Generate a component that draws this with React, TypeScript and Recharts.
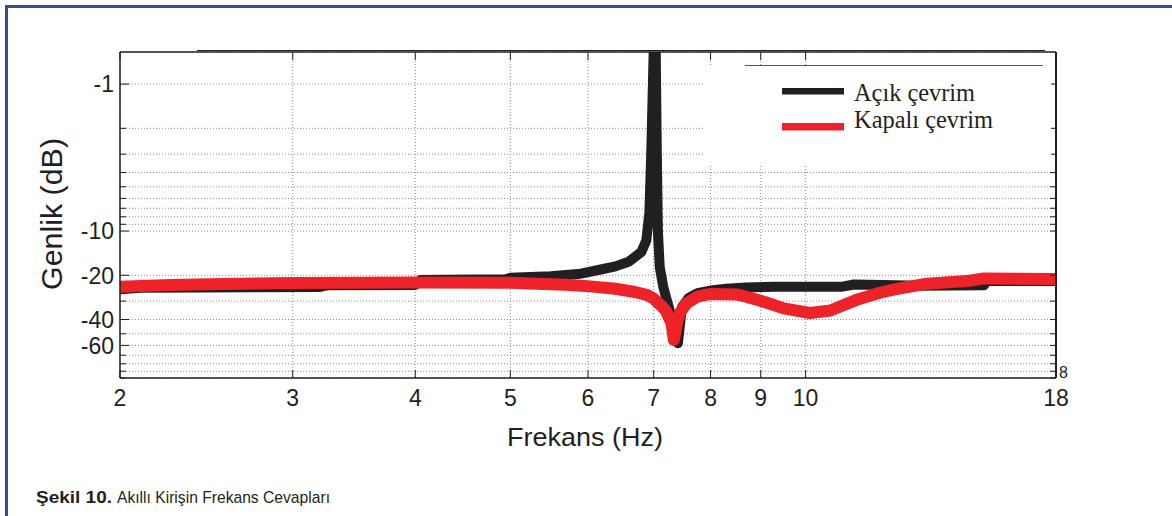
import React from 'react';
import { LineChart, Line, XAxis, YAxis, CartesianGrid } from 'recharts';

// Açık çevrim (open loop) — frequency (Hz) and amplitude (dB)
const acikFreq = [2.0, 2.1, 3.2, 3.25, 4.0, 4.05, 4.95, 5.0, 5.5, 5.9, 6.2, 6.4, 6.6, 6.8, 6.88, 6.93, 6.96, 6.99, 7.01, 7.03, 7.05, 7.07, 7.1, 7.16, 7.22, 7.3, 7.41, 7.48, 7.6, 7.76, 8.0, 8.3, 8.7, 9.3, 10.9, 11.2, 12.0, 13.0, 15.2, 15.3, 18.0];
const acikDb = [-24.9, -24.3, -24.0, -23.4, -23.3, -21.5, -21.3, -20.8, -20.3, -19.5, -18.2, -17.4, -16.2, -13.9, -11.6, -7.5, -3, -0.9, -0.4, -0.4, -2.5, -10, -17.6, -24, -29.6, -38.6, -58, -33, -28.5, -26.5, -25.4, -24.7, -24.2, -23.9, -23.9, -23.1, -23.3, -23.6, -23.4, -21.9, -21.9];

// Kapalı çevrim (closed loop)
const kapaliFreq = [2.0, 2.25, 2.55, 3.0, 4.0, 5.0, 5.4, 5.7, 6.03, 6.4, 6.7, 6.9, 7.0, 7.1, 7.2, 7.3, 7.34, 7.4, 7.45, 7.56, 7.76, 8.0, 8.5, 8.7, 9.1, 9.5, 10.1, 10.6, 11.3, 11.9, 12.5, 13.3, 14.6, 15.2, 18.0];
const kapaliDb = [-23.9, -23.3, -22.9, -22.6, -22.4, -22.5, -22.9, -23.2, -23.8, -24.7, -26.0, -27.3, -28.8, -31.5, -34.7, -42.5, -55, -41, -35.8, -31.1, -27.9, -26.8, -27.0, -28.0, -30.5, -33.6, -36.1, -34.7, -29.2, -26.3, -24.5, -22.8, -21.9, -21.0, -21.2];

// Axis ticks
const xTicks = [2, 3, 4, 5, 6, 7, 8, 9, 10, 18];
const yMinorTicks = [1, 2, 3, 4, 5, 6, 7, 8, 9, 10, 20, 30, 40, 50, 60, 70, 80, 90, 100];
const yLabelTicks = [1, 10, 20, 40, 60];

const acikData = acikFreq.map((f, i) => ({ f, m: -acikDb[i] }));
const kapaliData = kapaliFreq.map((f, i) => ({ f, m: -kapaliDb[i] }));

const INK = '#231f20';
const RED = '#ee2229';
const SANS = '"Liberation Sans", Arial, Helvetica, sans-serif';
const SERIF = '"Liberation Serif", "Times New Roman", serif';

const LeftTick = (props: any) => {
  const { x, y, payload } = props;
  const v = payload.value;
  const major = yLabelTicks.includes(v);
  return (
    <g>
      <line x1={x} x2={x + (major ? 9 : 6)} y1={y} y2={y} stroke={INK} strokeWidth={1} />
      {major && (
        <text x={x - 6} y={y} dy="0.36em" textAnchor="end" fontSize={23} fill={INK} fontFamily={SANS}>
          {`-${v}`}
        </text>
      )}
    </g>
  );
};

const RightTick = (props: any) => {
  const { x, y } = props;
  return <line x1={x} x2={x - 6} y1={y} y2={y} stroke={INK} strokeWidth={1} />;
};

const BottomTick = (props: any) => {
  const { x, y, payload } = props;
  return (
    <g>
      <line x1={x} x2={x} y1={y} y2={y - 8} stroke={INK} strokeWidth={1} />
      <text x={x} y={y + 28} textAnchor="middle" fontSize={23} fill={INK} fontFamily={SANS}>
        {payload.value}
      </text>
    </g>
  );
};

const TopTick = (props: any) => {
  const { x, y } = props;
  return <line x1={x} x2={x} y1={y} y2={y + 8} stroke={INK} strokeWidth={1} />;
};

export default function App() {
  return (
    <div style={{ position: 'absolute', left: 0, top: 0, width: 1172, height: 516, background: '#fff' }}>
      <LineChart width={1172} height={516} margin={{ top: 22, right: 56, bottom: 108, left: 0 }}>
        <CartesianGrid stroke="#8c8c8c" strokeDasharray="1 2" strokeWidth={1} />
        <XAxis
          dataKey="f"
          type="number"
          scale="log"
          domain={[2, 18]}
          ticks={xTicks}
          interval={0}
          allowDataOverflow
          height={30}
          tickSize={0}
          tickMargin={0}
          tickLine={false}
          tick={<BottomTick />}
          axisLine={{ stroke: INK, strokeWidth: 1.5 }}
        />
        <XAxis
          xAxisId="top"
          orientation="top"
          dataKey="f"
          type="number"
          scale="log"
          domain={[2, 18]}
          ticks={xTicks}
          interval={0}
          allowDataOverflow
          height={30}
          tickSize={0}
          tickMargin={0}
          tickLine={false}
          tick={<TopTick />}
          axisLine={{ stroke: INK, strokeWidth: 1.5 }}
        />
        <YAxis
          type="number"
          scale="log"
          domain={[0.605, 100]}
          reversed
          allowDataOverflow
          ticks={yMinorTicks}
          interval={0}
          width={120}
          tickSize={0}
          tickMargin={0}
          tickLine={false}
          tick={<LeftTick />}
          axisLine={{ stroke: INK, strokeWidth: 1.5 }}
        />
        <YAxis
          yAxisId="right"
          orientation="right"
          type="number"
          scale="log"
          domain={[0.605, 100]}
          reversed
          allowDataOverflow
          ticks={yMinorTicks}
          interval={0}
          width={60}
          tickSize={0}
          tickMargin={0}
          tickLine={false}
          tick={<RightTick />}
          axisLine={{ stroke: INK, strokeWidth: 2 }}
        />
        <Line
          data={acikData}
          dataKey="m"
          type="linear"
          stroke={INK}
          strokeWidth={10}
          dot={false}
          isAnimationActive={false}
          strokeLinejoin="round"
        />
        <Line
          data={kapaliData}
          dataKey="m"
          type="linear"
          stroke={RED}
          strokeWidth={12}
          dot={false}
          isAnimationActive={false}
          strokeLinejoin="round"
        />
      </LineChart>
      <svg
        width={1172}
        height={516}
        style={{ position: 'absolute', left: 0, top: 0, pointerEvents: 'none' }}
      >
        {/* page frame */}
        <rect x={5} y={5} width={1167} height={3} fill="#34508a" />
        <rect x={5} y={5} width={3} height={511} fill="#34508a" />
        {/* extra top rule */}
        <line x1={197} x2={1045} y1={50.5} y2={50.5} stroke={INK} strokeWidth={1} />
        {/* legend */}
        <rect x={703} y={66} width={348} height={99} fill="#fff" />
        <line x1={745} x2={1043} y1={65.5} y2={65.5} stroke="#555" strokeWidth={1} />
        <rect x={782} y={88} width={62} height={6.5} fill={INK} />
        <rect x={782} y={123} width={62} height={7.5} fill={RED} />
        <text x={854} y={100.5} fontSize={25} fill={INK} fontFamily={SERIF} textLength={121} lengthAdjust="spacingAndGlyphs">
          Açık çevrim
        </text>
        <text x={854} y={128} fontSize={25} fill={INK} fontFamily={SERIF} textLength={139} lengthAdjust="spacingAndGlyphs">
          Kapalı çevrim
        </text>
        {/* axis titles */}
        <text
          x={0}
          y={0}
          transform="translate(62,214) rotate(-90)"
          textAnchor="middle"
          fontSize={29}
          fill={INK}
          fontFamily={SANS}
          textLength={152}
          lengthAdjust="spacingAndGlyphs"
        >
          Genlik (dB)
        </text>
        <text x={507} y={446} fontSize={26} fill={INK} fontFamily={SANS} textLength={156} lengthAdjust="spacingAndGlyphs">
          Frekans (Hz)
        </text>
        <text x={1059} y={378} fontSize={16} fill={INK} fontFamily={SANS}>8</text>
        {/* caption */}
        <text x={36} y={503} fontSize={17} fontWeight="bold" fill={INK} fontFamily={SANS} textLength={76} lengthAdjust="spacingAndGlyphs">
          Şekil 10.
        </text>
        <text x={117} y={503} fontSize={17} fill={INK} fontFamily={SANS} textLength={213} lengthAdjust="spacingAndGlyphs">
          Akıllı Kirişin Frekans Cevapları
        </text>
      </svg>
    </div>
  );
}
